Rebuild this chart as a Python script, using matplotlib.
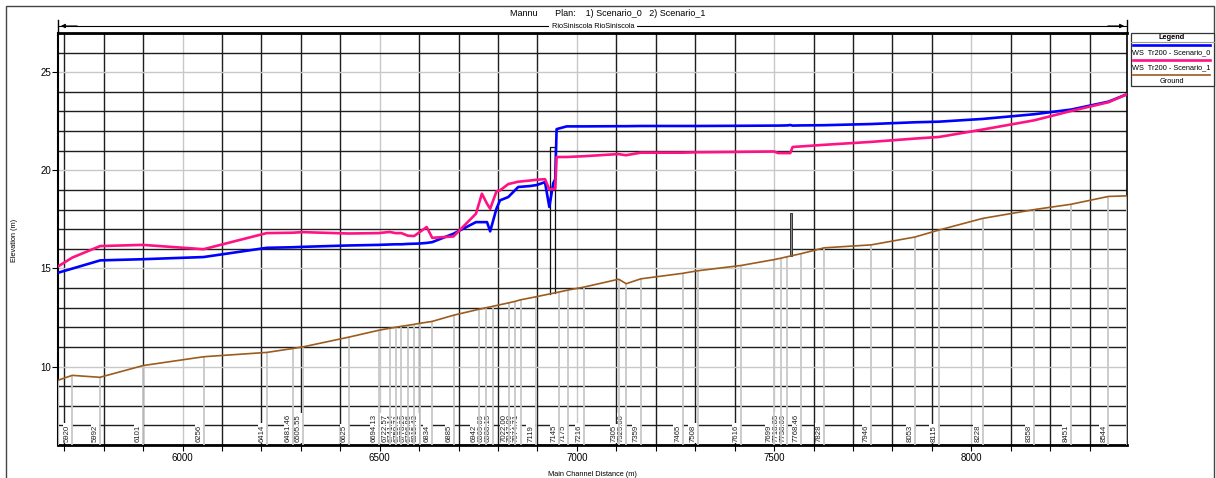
import matplotlib
matplotlib.use('Agg')
import matplotlib.pyplot as plt
from matplotlib.patches import Rectangle, FancyArrowPatch
from matplotlib.lines import Line2D
from matplotlib.ticker import MultipleLocator
import numpy as np

plt.rcParams['font.family'] = ['Liberation Sans', 'DejaVu Sans']

# cross sections: main channel distance (m), river station label, ground elevation (m)
xs_dist = [5684, 5720, 5790, 5900, 6054, 6214, 6280, 6305, 6422, 6498, 6525, 6540,
           6555, 6571, 6587, 6601, 6633, 6688, 6752, 6770, 6787, 6828, 6843, 6857,
           6895, 6955, 6978, 7018, 7106, 7125, 7162, 7268, 7306, 7416, 7500, 7517,
           7534, 7568, 7627, 7746, 7857, 7917, 8029, 8160, 8253, 8348, 8395]
xs_label = ['', '5920', '5992', '6101', '6256', '6414', '6481.46', '6505.55', '6625',
            '6694.13', '6722.57', '6741.14', '6759.71', '6778.29', '6796.86', '6815.43',
            '6834', '6885', '6942', '6969.69', '6988.15', '7022.00', '7047.00', '7074.71',
            '7119', '7145', '7175', '7216', '7305', '7325.00', '7359', '7465', '7508',
            '7616', '7699', '7718.85', '7738.69', '7768.46', '7828', '7946', '8053',
            '8115', '8228', '8358', '8451', '8544', '']
ground = [9.30, 9.55, 9.45, 10.05, 10.50, 10.72, 10.92, 11.00, 11.50, 11.85, 11.95, 12.00,
          12.05, 12.10, 12.15, 12.20, 12.30, 12.62, 12.92, 13.00, 13.07, 13.25, 13.32, 13.40,
          13.55, 13.80, 13.90, 14.05, 14.45, 14.22, 14.47, 14.75, 14.88, 15.15, 15.45, 15.52,
          15.60, 15.75, 16.05, 16.20, 16.60, 16.95, 17.55, 18.00, 18.27, 18.67, 18.70]

# water surface profiles Tr200
ws_dist = [5684, 5720, 5791, 5899, 6053, 6213, 6279, 6304, 6421, 6497, 6525, 6540, 6555,
           6571, 6587, 6601, 6619, 6633, 6687, 6744, 6759, 6772, 6780, 6796, 6805, 6826,
           6851, 6881, 6898, 6919, 6930, 6940, 6945, 6948.5, 6974, 7018, 7105, 7124, 7162,
           7268, 7306, 7416, 7500, 7510, 7534, 7541, 7547, 7569, 7627, 7746, 7858, 7918,
           8029, 8160, 8254, 8348, 8395]
ws_scen0 = [14.78, 14.99, 15.41, 15.47, 15.58, 16.05, 16.08, 16.10, 16.17, 16.20, 16.22,
            16.23, 16.23, 16.25, 16.26, 16.27, 16.30, 16.34, 16.77, 17.36, 17.36, 17.36,
            16.89, 18.05, 18.47, 18.64, 19.15, 19.20, 19.25, 19.40, 18.13, 19.35, 19.55,
            22.10, 22.24, 22.24, 22.25, 22.25, 22.26, 22.26, 22.26, 22.27, 22.28, 22.28,
            22.29, 22.31, 22.28, 22.29, 22.30, 22.36, 22.45, 22.48, 22.62, 22.86, 23.10,
            23.50, 23.88]
ws_scen1 = [15.10, 15.55, 16.14, 16.20, 15.98, 16.80, 16.82, 16.85, 16.78, 16.80, 16.86,
            16.80, 16.80, 16.67, 16.65, 16.85, 17.11, 16.56, 16.63, 17.79, 18.81, 18.30,
            18.04, 18.93, 18.98, 19.30, 19.42, 19.48, 19.52, 19.55, 19.03, 19.05, 19.06,
            20.68, 20.68, 20.72, 20.83, 20.77, 20.90, 20.90, 20.92, 20.94, 20.96, 20.88,
            20.88, 20.88, 21.19, 21.22, 21.30, 21.45, 21.62, 21.70, 22.08, 22.55, 23.03,
            23.47, 23.88]

# structures
bridge_dist = [6931, 6945]
bridge_top = 21.2
weir_dist = [7541, 7546]
weir_top = 17.8

c_ws0 = '#0000ff'
c_ws1 = '#ff1283'
c_gnd = '#9c5b1f'

W, H = 1216, 478
fig = plt.figure(figsize=(W / 100, H / 100), dpi=100)


def fx(x):
    return x / W


def fy(y):
    return 1 - y / H


ax = fig.add_axes([fx(58), fy(445), fx(1127) - fx(58), fy(33) - fy(445)])
ax.set_xlim(xs_dist[0], xs_dist[-1])
ax.set_ylim(6, 27)

ax.xaxis.set_major_locator(MultipleLocator(500))
ax.xaxis.set_minor_locator(MultipleLocator(100))
ax.yaxis.set_major_locator(MultipleLocator(5))
ax.yaxis.set_minor_locator(MultipleLocator(1))
ax.set_axisbelow(True)
ax.grid(which='major', color='#c8c8c8', lw=1.0)
ax.grid(which='minor', color='#1e1e1e', lw=1.0)
ax.tick_params(axis='x', which='both', length=4, width=0.8, labelsize=7, pad=2)
ax.tick_params(axis='y', which='major', length=4, width=0.8, labelsize=7, pad=1)
ax.tick_params(axis='y', which='minor', length=0)
for s in ['top', 'bottom']:
    ax.spines[s].set_linewidth(2.0)
ax.spines['left'].set_linewidth(1.5)
ax.spines['right'].set_linewidth(1.2)

# cross section station lines and labels
ax.vlines(xs_dist, 6, ground, color='#c8c8c8', lw=1.3, zorder=3)
for d, lab in zip(xs_dist, xs_label):
    if lab:
        ax.annotate(lab, (d, 6), xytext=(-0.9, 2.4), textcoords='offset points',
                    rotation=90, ha='right', va='bottom', fontsize=5.6, color='#222222',
                    bbox=dict(boxstyle='square,pad=0.12', fc='white', ec='none'), zorder=2)

# bridge deck and inline structure
g_b = np.interp(bridge_dist, xs_dist, ground)
ax.plot([bridge_dist[0], bridge_dist[0], bridge_dist[1], bridge_dist[1]],
        [g_b[0], bridge_top, bridge_top, g_b[1]], color='#111111', lw=0.9, zorder=4)
g_w = np.interp(weir_dist[0], xs_dist, ground)
ax.add_patch(Rectangle((weir_dist[0], g_w), weir_dist[1] - weir_dist[0], weir_top - g_w,
                       fc='#8a8a8a', ec='#333333', lw=0.7, zorder=4))

ax.plot(xs_dist, ground, color=c_gnd, lw=1.2, zorder=5)
ax.plot(ws_dist, ws_scen0, color=c_ws0, lw=1.9, zorder=6)
ax.plot(ws_dist, ws_scen1, color=c_ws1, lw=1.9, zorder=7)

# axis titles
fig.text(fx(15), fy(240), 'Elevation (m)', rotation=90, ha='center', va='center', fontsize=5.3)
fig.text(fx(592), fy(474), 'Main Channel Distance (m)', ha='center', va='center', fontsize=5.3)

# header
fig.text(0.5, fy(13), 'Mannu       Plan:    1) Scenario_0   2) Scenario_1',
         ha='center', va='center', fontsize=6.5)
fig.add_artist(Line2D([fx(58), fx(1127)], [fy(26), fy(26)], transform=fig.transFigure,
                      color='k', lw=0.8))
for x0, x1 in [(fx(80), fx(58)), (fx(1105), fx(1127))]:
    fig.add_artist(FancyArrowPatch((x0, fy(26)), (x1, fy(26)), transform=fig.transFigure,
                                   arrowstyle='-|>', mutation_scale=6, color='k', lw=0.8))
for xe in [58, 1127]:
    fig.add_artist(Line2D([fx(xe), fx(xe)], [fy(20), fy(32)], transform=fig.transFigure,
                          color='k', lw=1.0))
fig.text(fx(593), fy(26), 'RioSiniscola RioSiniscola', ha='center', va='center', fontsize=5.3,
         bbox=dict(boxstyle='square,pad=0.4', fc='white', ec='none'))

# outer frame
fig.add_artist(Rectangle((fx(5.5), fy(490)), fx(1214) - fx(5.5), fy(5.5) - fy(490),
                         transform=fig.transFigure, fill=False, ec='#444444', lw=1.0))

# legend
fig.add_artist(Rectangle((fx(1130.5), fy(86)), fx(1214) - fx(1130.5), fy(33) - fy(86),
                         transform=fig.transFigure, fc='white', ec='#333333', lw=0.9))
fig.text(fx(1172), fy(37.5), 'Legend', ha='center', va='center', fontsize=5.3, fontweight='bold')
fig.add_artist(Line2D([fx(1131), fx(1214)], [fy(41.5), fy(41.5)], transform=fig.transFigure,
                      color='#999999', lw=0.8))
leg_items = [('WS  Tr200 - Scenario_0', c_ws0, 1.9), ('WS  Tr200 - Scenario_1', c_ws1, 1.9),
             ('Ground', c_gnd, 1.2)]
for i, (lab, col, lw) in enumerate(leg_items):
    yl = 45.3 + i * 14.8
    fig.add_artist(Line2D([fx(1133), fx(1210)], [fy(yl), fy(yl)], transform=fig.transFigure,
                          color=col, lw=lw))
    if lab == 'Ground':
        fig.text(fx(1172), fy(yl + 6.5), lab, ha='center', va='center', fontsize=5.3)
    else:
        fig.text(fx(1132), fy(yl + 7.7), lab, ha='left', va='center', fontsize=5.3)

fig.savefig('out.png', dpi=100)
